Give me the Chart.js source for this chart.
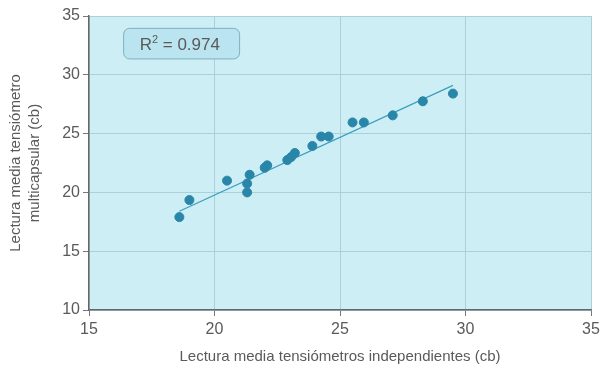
<!DOCTYPE html>
<html>
<head>
<meta charset="utf-8">
<script src="https://cdn.jsdelivr.net/npm/chart.js@4.4.0/dist/chart.umd.min.js"></script>
<style>
  html, body { margin: 0; padding: 0; background: #fff; }
  #wrap { width: 613px; height: 368px; position: relative; }
</style>
</head>
<body>
<div id="wrap"><canvas id="scatterChart"></canvas></div>
<script>
// measured points (tensiómetros independientes vs multicapsular)
const independientes = [18.6, 19.0, 20.5, 21.3, 21.3, 21.4, 22.0, 22.1, 22.9, 23.05, 23.2, 23.9, 24.25, 24.55, 25.5, 25.95, 27.1, 28.3, 29.5];
const multicapsular  = [17.9, 19.35, 21.0, 20.75, 20.0, 21.5, 22.1, 22.3, 22.75, 23.0, 23.35, 23.95, 24.75, 24.75, 25.95, 25.95, 26.55, 27.75, 28.4];

// fitted line end points
const trendX = [18.6, 29.5];
const trendY = [18.4, 29.1];

const xTicks = [15, 20, 25, 30, 35];
const yTicks = [10, 15, 20, 25, 30, 35];
const r2Label = '0.974';

const textColor = '#5a5a5a';
const fontFam = 'Liberation Sans, Arial, sans-serif';

const plotBackground = {
    id: 'plotBackground',
    beforeDraw: (chart) => {
        const { ctx, chartArea } = chart;
        ctx.save();
        ctx.fillStyle = '#cdeef5';
        ctx.fillRect(chartArea.left, chartArea.top, chartArea.right - chartArea.left, chartArea.bottom - chartArea.top);
        ctx.restore();
    }
};

// R² box in the upper left corner
const r2Box = {
    id: 'r2Box',
    afterDatasetsDraw: (chart) => {
        const ctx = chart.ctx;
        const xs = chart.scales.x;
        const ys = chart.scales.y;
        const x0 = xs.getPixelForValue(16.38);
        const x1 = xs.getPixelForValue(21.0);
        const y0 = ys.getPixelForValue(33.95);
        const y1 = ys.getPixelForValue(31.35);
        ctx.save();
        ctx.beginPath();
        ctx.roundRect(x0, y0, x1 - x0, y1 - y0, 6);
        ctx.fillStyle = '#bae4ef';
        ctx.fill();
        ctx.lineWidth = 1;
        ctx.strokeStyle = '#7fb1bf';
        ctx.stroke();

        ctx.fillStyle = textColor;
        ctx.textBaseline = 'alphabetic';
        const base = (y0 + y1) / 2 + 6;
        let tx = x0 + 16;
        ctx.font = '17px ' + fontFam;
        ctx.fillText('R', tx, base);
        tx += ctx.measureText('R').width;
        ctx.font = '11px ' + fontFam;
        ctx.fillText('2', tx, base - 7);
        tx += ctx.measureText('2').width;
        ctx.font = '17px ' + fontFam;
        ctx.fillText(' = ' + r2Label, tx, base);
        ctx.restore();
    }
};

const scatterData = independientes.map((v, i) => ({ x: v, y: multicapsular[i] }));
const trendData = trendX.map((v, i) => ({ x: v, y: trendY[i] }));

new Chart(document.getElementById('scatterChart'), {
    type: 'scatter',
    data: {
        datasets: [{
            label: 'Lecturas',
            data: scatterData,
            backgroundColor: '#2a86a9',
            borderColor: '#2a86a9',
            pointRadius: 4.5,
            pointHoverRadius: 4.5,
            order: 1
        }, {
            label: 'Ajuste',
            type: 'line',
            data: trendData,
            borderColor: '#3b9dbf',
            borderWidth: 1.2,
            pointRadius: 0,
            fill: false,
            order: 2
        }]
    },
    options: {
        responsive: true,
        maintainAspectRatio: false,
        animation: false,
        layout: { padding: { top: 16, right: 22, left: 0, bottom: 0 } },
        plugins: {
            legend: { display: false },
            tooltip: { enabled: false }
        },
        scales: {
            x: {
                type: 'linear',
                min: 15,
                max: 35,
                afterBuildTicks: (scale) => { scale.ticks = xTicks.map(v => ({ value: v })); },
                afterFit: (scale) => { scale.height = 58; },
                ticks: { color: textColor, font: { size: 16, family: fontFam }, padding: 4 },
                grid: { color: '#abd0d9', tickColor: '#777', tickLength: 6 },
                border: { color: '#666', width: 1.5 },
                title: {
                    display: true,
                    text: 'Lectura media tensiómetros independientes (cb)',
                    color: textColor,
                    font: { size: 15, family: fontFam },
                    padding: { top: 0, bottom: 2 }
                }
            },
            y: {
                type: 'linear',
                min: 10,
                max: 35,
                afterBuildTicks: (scale) => { scale.ticks = yTicks.map(v => ({ value: v })); },
                afterFit: (scale) => { scale.width = 89; },
                ticks: { color: textColor, font: { size: 16, family: fontFam }, padding: 3 },
                grid: { color: '#abd0d9', tickColor: '#777', tickLength: 6 },
                border: { color: '#666', width: 1.5 },
                title: {
                    display: true,
                    text: ['Lectura media tensiómetro', 'multicapsular (cb)'],
                    color: textColor,
                    font: { size: 15, family: fontFam, lineHeight: 1.3 },
                    padding: { top: 6, bottom: 0 }
                }
            }
        }
    },
    plugins: [plotBackground, r2Box]
});
</script>
</body>
</html>
